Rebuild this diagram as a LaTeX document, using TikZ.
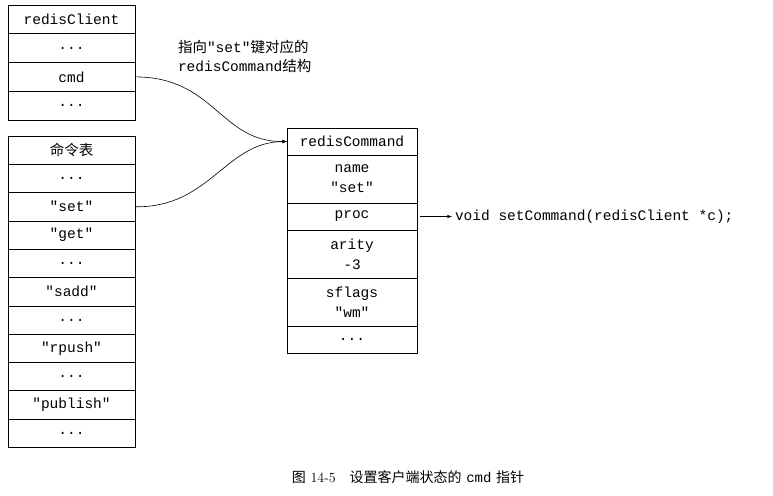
\documentclass[tikz,border=0pt]{standalone}
\usepackage{fontspec}
\setmonofont{Liberation Mono}
\newfontfamily\cjk{Noto Sans CJK SC}
\usetikzlibrary{positioning}
\newcommand\ellip{...}
\begin{document}
\begin{tikzpicture}[x=1pt, y=-1pt,
        every node/.style={font=\ttfamily\fontsize{14.5}{17}\selectfont, align=center, inner sep=0pt, outer sep=0pt},
        cell/.style={draw, line width=0.6pt, minimum width=127pt},
        rcell/.style={draw, line width=0.6pt, minimum width=130pt},
        link/.style={-latex, line width=0.6pt}
    ]
    \useasboundingbox (0,0) rectangle (773,495);

    % redisClient
    \node[cell, minimum height=28.75pt, anchor=north west] (client) at (8,5) {redisClient};
    \node[cell, minimum height=28.75pt, below=0pt of client] (c1) {...};
    \node[cell, minimum height=28.75pt, below=0pt of c1] (cmd) {cmd};
    \node[cell, minimum height=28.75pt, below=0pt of cmd] (c3) {...};

    % command table
    \node[cell, minimum height=28.3pt, anchor=north west] (t0) at (8,136) {{\cjk 命令表}};
    \foreach \t [count=\i, remember=\i as \j (initially 0)] in
        {\ellip,"set","get",\ellip,"sadd",\ellip,"rpush",\ellip,"publish",\ellip}
        \node[cell, minimum height=28.3pt, below=0pt of t\j] (t\i) {\t};

    % redisCommand
    \node[rcell, minimum height=27pt, anchor=north west] (rc) at (287,128) {redisCommand};
    \node[rcell, minimum height=48pt, below=0pt of rc] (name) {name\\[3pt]"set"};
    \node[rcell, minimum height=27pt, below=0pt of name] (proc) {proc};
    \node[rcell, minimum height=48pt, below=0pt of proc] (arity) {arity\\[3pt]-3};
    \node[rcell, minimum height=48pt, below=0pt of arity] (sflags) {sflags\\[3pt]"wm"};
    \node[rcell, minimum height=27pt, below=0pt of sflags] (r5) {...};

    \node[anchor=west, inner sep=3pt] (func) at (proc.east -| 452,0) {void setCommand(redisClient *c);};
    \node[anchor=north west, align=left] (note) at (178,40) {{\cjk 指向}"set"{\cjk 键对应的}\\[2pt]redisCommand{\cjk 结构}};

    % arrows
    \draw[link] (cmd.east) .. controls (215,77) and (220,142) .. (rc.west);
    \draw[link] (t2.east) .. controls (210,208) and (225,142) .. (rc.west);
    \draw[link] ([xshift=3pt]proc.east) -- (func.west);

    \node (caption) at (408,477) {\rmfamily\fontsize{14}{16}\selectfont{\cjk 图} 14-5\quad{\cjk 设置客户端状态的} {\ttfamily cmd} {\cjk 指针}};
\end{tikzpicture}
\end{document}
